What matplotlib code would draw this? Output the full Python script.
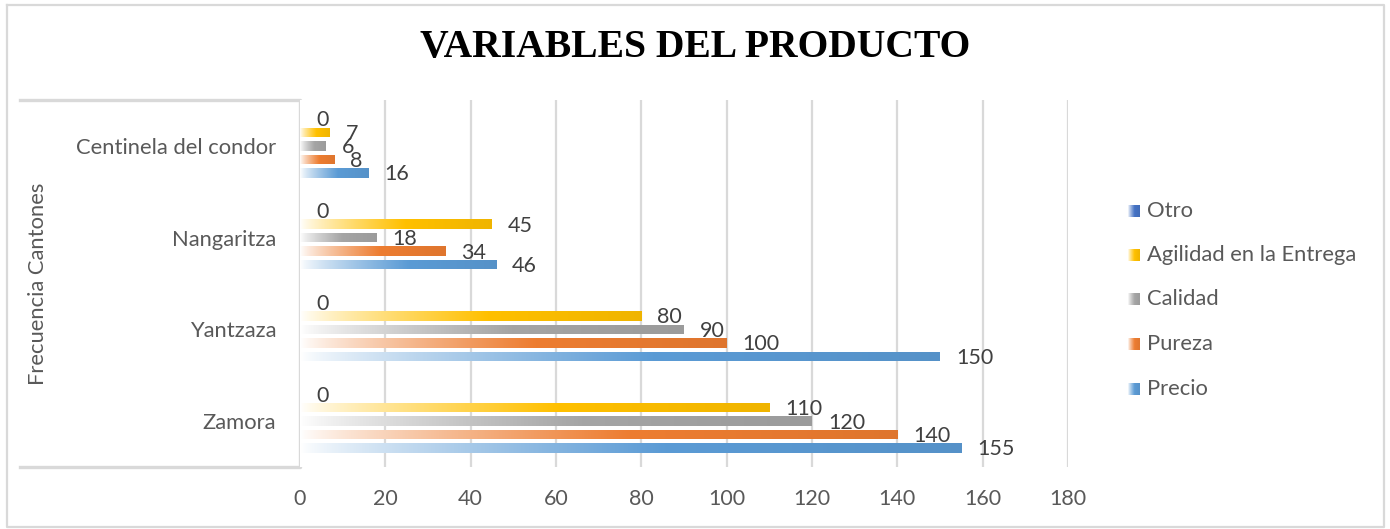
import numpy as np
import matplotlib
matplotlib.use("Agg")
import matplotlib.pyplot as plt
from matplotlib.colors import to_rgb
from matplotlib.lines import Line2D

# ---- data ----
categories = ["Zamora", "Yantzaza", "Nangaritza", "Centinela del condor"]
series_names = ["Precio", "Pureza", "Calidad", "Agilidad en la Entrega", "Otro"]
precio = [155, 150, 46, 16]
pureza = [140, 100, 34, 8]
calidad = [120, 90, 18, 6]
agilidad = [110, 80, 45, 7]
otro = [0, 0, 0, 0]
x_ticks = [0, 20, 40, 60, 80, 100, 120, 140, 160, 180]

series_values = [precio, pureza, calidad, agilidad, otro]
series_colors = ["#5B9BD5", "#ED7D31", "#A5A5A5", "#FFC000", "#4472C4"]

W, H = 1390, 529
plt.rcParams["font.family"] = ["Lato", "DejaVu Sans"]
fig = plt.figure(figsize=(W / 100, H / 100), dpi=100)


def px_rect(x0, y0, x1, y1):
    return [x0 / W, 1 - y1 / H, (x1 - x0) / W, (y1 - y0) / H]


def gradient_image(color, n=256):
    """White -> colour -> slightly darker colour, left to right."""
    c = np.array(to_rgb(color))
    white = np.ones(3)
    dark = c * 0.94
    t = np.linspace(0, 1, n)
    img = np.zeros((1, n, 3))
    for k, tk in enumerate(t):
        if tk < 0.55:
            s = (tk / 0.55) ** 0.8
            img[0, k] = white * (1 - s) + c * s
        else:
            s = (tk - 0.55) / 0.45
            img[0, k] = c * (1 - s) + dark * s
    return img


# ---- main plot area ----
ax = fig.add_axes(px_rect(300, 100, 1068, 467))
ax.set_xlim(0, 180)
ax.set_ylim(-0.5, len(categories) - 0.5)

step = 0.147
bar_h = 0.104
y_base = np.arange(len(categories))

for j, (vals, col) in enumerate(zip(series_values, series_colors)):
    ypos = y_base + (j - 2) * step
    bars = ax.barh(ypos, vals, height=bar_h, facecolor="none", edgecolor="none", zorder=3)
    grad = gradient_image(col)
    for b, v, yy in zip(bars, vals, ypos):
        if v > 0:
            im = ax.imshow(grad, extent=[0, v, yy - bar_h / 2, yy + bar_h / 2],
                           aspect="auto", interpolation="bilinear", zorder=3)
            im.set_clip_path(b)
        ax.annotate(str(v), xy=(v, yy), xytext=(11.5, -1), textcoords="offset points",
                    ha="left", va="center", fontsize=15.5, color="#404040", zorder=4)

ax.set_xlim(0, 180)
ax.set_ylim(-0.5, len(categories) - 0.5)

for xv in x_ticks[1:]:
    ax.axvline(xv, color="#d9d9d9", lw=1.6, zorder=1)

for s in ax.spines.values():
    s.set_visible(False)
ax.set_xticks(x_ticks)
ax.set_xticklabels([str(v) for v in x_ticks])
ax.set_yticks(y_base)
ax.set_yticklabels(categories)
ax.tick_params(axis="x", length=0, pad=16, labelsize=15.5, labelcolor="#595959")
ax.tick_params(axis="y", length=0, pad=17, labelsize=15.8, labelcolor="#595959")

# ---- decorations in pixel coordinates ----
deco = fig.add_axes([0, 0, 1, 1], zorder=-1)
deco.set_xlim(0, W)
deco.set_ylim(H, 0)
deco.axis("off")

# outer frame
deco.add_line(Line2D([7, 1384, 1384, 7, 7], [5, 5, 527, 527, 5], color="#d9d9d9", lw=1.6))
# category axis bracket
deco.add_line(Line2D([20, 300, 300, 20], [100, 100, 467, 467], color="#d9d9d9", lw=2.4))

fig.text(695 / W, 1 - 47 / H, "VARIABLES DEL PRODUCTO", ha="center", va="center",
         fontsize=28.5, fontweight="bold", family=["Liberation Serif"], color="black")

fig.text(38 / W, 1 - 284 / H, "Frecuencia Cantones", rotation=90, ha="center", va="center",
         fontsize=15.8, color="#595959")

# legend, top entry first
legend_y = [211, 255, 299, 344, 389]
for name, col, ly in zip(series_names[::-1], series_colors[::-1], legend_y):
    deco.imshow(gradient_image(col), extent=[1128, 1140, ly + 6, ly - 6],
                aspect="auto", interpolation="bilinear")
    deco.text(1147, ly, name, ha="left", va="center", fontsize=15.8, color="#595959")
deco.set_xlim(0, W)
deco.set_ylim(H, 0)

fig.savefig("out.png", dpi=100, facecolor="white")
